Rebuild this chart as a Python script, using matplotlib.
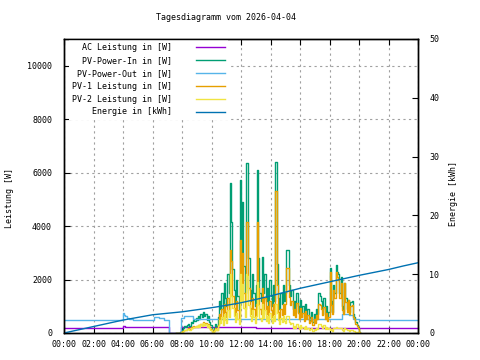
import numpy as np
import matplotlib
matplotlib.use("Agg")
import matplotlib.pyplot as plt

# ---------------- data ----------------
title = "Tagesdiagramm vom 2026-04-04"
xtick_labels = ["00:00", "02:00", "04:00", "06:00", "08:00", "10:00", "12:00",
                "14:00", "16:00", "18:00", "20:00", "22:00", "00:00"]
left_ticks = [0, 2000, 4000, 6000, 8000, 10000]
right_ticks = [0, 10, 20, 30, 40, 50]

# AC Leistung [W] (change points, step)
ac_times = ["00:00", "01:20", "04:00", "04:10", "07:07", "07:56", "10:35", "13:00", "17:00", "24:00"]
ac_vals = [175, 205, 255, 210, 0, 235, 210, 195, 175, 175]

# PV-Power-Out [W] (change points, step)
out_times = ["00:00", "04:00", "04:05", "04:10", "04:15", "04:25", "04:40", "06:05", "06:15",
             "06:25", "06:45", "07:07", "07:56", "08:10", "08:45", "18:50", "19:20", "19:35",
             "20:00", "24:00"]
out_vals = [490, 740, 690, 620, 570, 530, 500, 610, 590,
            560, 500, 0, 560, 630, 515, 720, 680, 510,
            490, 490]

# PV series, 5-minute samples starting 07:35
pv_start = "07:35"
pv_in = [0, 0,
         0, 30, 80,
         120, 180, 250, 220, 300, 350, 280, 420, 380, 500, 450, 560,
         480, 620, 520, 700, 580, 800, 620, 720, 500, 650, 420, 300,
         120, 60, 200, 350, 250, 600, 1200, 900, 1500, 800, 1860, 1300,
         1000, 2200, 1500, 5600, 4170, 2400, 1600, 1100, 2000, 1400, 900, 5730,
         3000, 4900, 2500, 1500, 6350, 6350, 2800, 1600, 1200, 2200, 1500, 1000,
         1800, 6100, 2800, 1500, 1200, 2850, 1500, 2200, 1200, 1700, 1000, 2000,
         1400, 1000, 1800, 1200, 6400, 2600, 1300, 900, 1500, 1100, 1800, 1200,
         1500, 3100, 3100, 1800, 1400, 1600, 900, 1200, 800, 1500, 1000, 700,
         1240, 800, 1000, 600, 1100, 700, 900, 500, 600, 800, 400, 700,
         500, 900, 700, 1500, 1400, 1200, 900, 1300, 700, 1000, 600, 800,
         2430, 1200, 800, 1800, 1500, 2550, 2300, 2200, 1500, 2100, 1000, 800,
         1870, 1300, 900, 1240, 800, 1150, 1200, 700, 600, 400, 300, 200,
         50, 0]
pv1 = [0, 0,
       0, 15, 40,
       60, 90, 130, 110, 150, 180, 140, 210, 190, 250, 230, 280,
       240, 310, 260, 350, 290, 400, 310, 360, 250, 330, 210, 150,
       60, 30, 100, 180, 130, 300, 700, 520, 900, 480, 1100, 780,
       600, 1300, 900, 3100, 2700, 1400, 950, 650, 1200, 850, 540, 3480,
       1800, 3000, 1500, 900, 4170, 4170, 1700, 950, 720, 1300, 900, 600,
       1100, 4170, 1700, 900, 720, 1700, 900, 1300, 720, 1000, 600, 1200,
       850, 600, 1100, 720, 5300, 1800, 800, 550, 900, 660, 1100, 720,
       1100, 2430, 2430, 1350, 1050, 1200, 680, 900, 600, 1120, 750, 520,
       930, 600, 750, 450, 820, 520, 680, 380, 450, 600, 300, 520,
       380, 680, 520, 1100, 1050, 900, 680, 980, 520, 750, 450, 600,
       2300, 1050, 700, 1600, 1300, 2300, 2100, 2000, 1300, 1870, 870, 700,
       1870, 1150, 800, 1240, 700, 1000, 1050, 600, 520, 350, 260, 170,
       40, 0]
pv2 = [0, 0,
       0, 12, 35,
       50, 80, 110, 100, 140, 160, 130, 190, 180, 230, 210, 260,
       220, 290, 240, 330, 270, 380, 290, 340, 230, 300, 190, 130,
       50, 25, 90, 160, 110, 280, 480, 360, 580, 300, 700, 500,
       380, 850, 580, 2200, 1400, 950, 620, 420, 750, 520, 340, 2200,
       1150, 1850, 950, 580, 2200, 2150, 1050, 620, 460, 850, 580, 380,
       650, 1900, 1050, 560, 450, 1100, 560, 850, 450, 650, 380, 750,
       520, 380, 650, 450, 1100, 750, 480, 330, 560, 420, 650, 460,
       380, 650, 650, 420, 330, 380, 200, 280, 180, 350, 230, 160,
       290, 180, 230, 140, 260, 160, 200, 110, 140, 180, 90, 160,
       110, 200, 160, 350, 320, 270, 200, 300, 160, 230, 140, 180,
       120, 140, 90, 180, 180, 230, 190, 190, 180, 200, 120, 90,
       200, 150, 100, 130, 90, 120, 130, 90, 70, 50, 40, 25,
       10, 0]

# Energie [kWh], hourly
energy_hours = list(range(25))
energy = [0.0, 0.55, 1.1, 1.65, 2.2, 2.65, 3.1, 3.35, 3.6, 3.95, 4.3, 4.7, 5.15,
          5.7, 6.3, 6.95, 7.6, 8.15, 8.7, 9.25, 9.8, 10.3, 10.8, 11.4, 11.95]

labels = ["AC Leistung in [W]", "PV-Power-In in [W]", "PV-Power-Out in [W]",
          "PV-1 Leistung in [W]", "PV-2 Leistung in [W]", "Energie in [kWh]"]
colors = ["#9400D3", "#009E73", "#56B4E9", "#E69F00", "#F0E442", "#0072B2"]


def hm(s):
    h, m = s.split(":")
    return int(h) + int(m) / 60.0


# ---------------- figure ----------------
FONT = "DejaVu Sans Mono"
FS = 6
plt.rcParams["font.family"] = [FONT]

W, H = 480, 360
fig = plt.figure(figsize=(W / 100, H / 100), dpi=100)
L, R, T, B = 64, 418, 39, 333
ax = fig.add_axes([L / W, 1 - B / H, (R - L) / W, (B - T) / H])
ax2 = ax.twinx()

lw = 1.0
t_pv = hm(pv_start) + np.arange(len(pv_in)) * 5 / 60.0

h1, = ax.plot([hm(t) for t in ac_times], ac_vals, drawstyle="steps-post", color=colors[0], lw=lw)
h2, = ax.plot(t_pv, pv_in, drawstyle="steps-post", color=colors[1], lw=lw)
h3, = ax.plot([hm(t) for t in out_times], out_vals, drawstyle="steps-post", color=colors[2], lw=lw)
h4, = ax.plot(t_pv, pv1, drawstyle="steps-post", color=colors[3], lw=lw)
h5, = ax.plot(t_pv, pv2, drawstyle="steps-post", color=colors[4], lw=lw)
h6, = ax2.plot(energy_hours, energy, color=colors[5], lw=lw)

ax.set_xlim(0, 24)
ax.set_ylim(0, 11000)
ax2.set_ylim(0, 50)

ax.set_xticks(np.arange(0, 25, 2))
ax.set_xticklabels(xtick_labels)
ax.set_yticks(left_ticks)
ax.set_yticklabels([str(v) for v in left_ticks])
ax2.set_yticks(right_ticks)
ax2.set_yticklabels([str(v) for v in right_ticks])

ax.tick_params(axis="x", direction="in", length=4, width=0.8, top=True, bottom=True,
               labelsize=FS, pad=5)
ax.tick_params(axis="y", direction="in", length=4, width=0.8, left=True, right=False,
               labelsize=FS, pad=8.6)
ax2.tick_params(axis="y", direction="in", length=4, width=0.8, labelsize=FS, pad=8)

for a in (ax, ax2):
    for s in a.spines.values():
        s.set_linewidth(1.0)
        s.set_zorder(6)

ax.grid(True, color="#a0a0a0", linestyle=(0, (2, 3)), linewidth=0.8)
ax.set_axisbelow(True)

fig.text(226 / W, 1 - 18 / H, title, ha="center", va="center", fontsize=FS)
fig.text(10 / W, 1 - 198 / H, "Leistung [W]", rotation=90, ha="center", va="center", fontsize=FS)
fig.text(453 / W, 1 - 193 / H, "Energie [kWh]", rotation=90, ha="center", va="center", fontsize=FS)

leg = ax2.legend([h1, h2, h3, h4, h5, h6], labels, loc="upper right",
                 bbox_to_anchor=(228 / W, 1 - 39.5 / H), bbox_transform=fig.transFigure,
                 frameon=True, fancybox=False, framealpha=1.0, facecolor="white",
                 edgecolor="none", markerfirst=False, fontsize=FS, handlelength=3.4,
                 handletextpad=2.9, labelspacing=0.47, borderpad=0.4, borderaxespad=0)
leg.set_zorder(5)

fig.savefig("out.png", dpi=100)
